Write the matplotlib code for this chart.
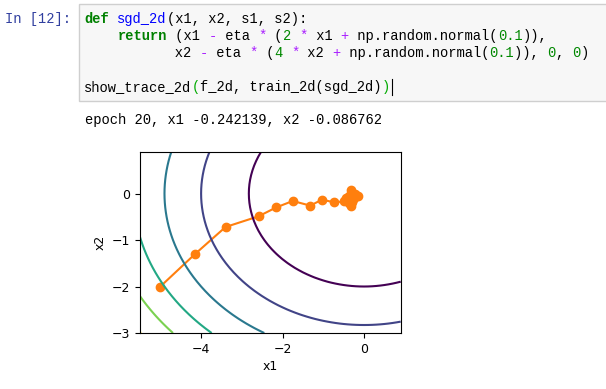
import numpy as np
import matplotlib
matplotlib.use('Agg')
import matplotlib.pyplot as plt
from matplotlib.patches import Rectangle
from matplotlib.lines import Line2D

W, H = 606, 389

# trajectory (21 points, start at (-5, -2))
x1_trace = [-5.0, -4.16, -3.40, -2.59, -2.16, -1.75, -1.32, -1.03, -0.74, -0.50,
            -0.45, -0.33, -0.38, -0.30, -0.33, -0.22, -0.15, -0.28, -0.36, -0.25, -0.242]
x2_trace = [-2.0, -1.31, -0.72, -0.49, -0.30, -0.16, -0.26, -0.13, -0.19, -0.17,
            -0.10, 0.07, -0.05, -0.18, -0.27, -0.02, -0.05, -0.12, -0.21, -0.05, -0.087]

contour_levels = [8, 16, 24, 32, 40, 48]
x_ticks = [-4, -2, 0]
y_ticks = [0, -1, -2, -3]

prompt = 'In [12]:'
output_line = 'epoch 20, x1 -0.242139, x2 -0.086762'

# code cell, split into (text, style) pieces
code_lines = [
    [('def', 'kw'), (' ', ''), ('sgd_2d', 'fn'), ('(x1, x2, s1, s2):', '')],
    [('    ', ''), ('return', 'kw'), (' (x1 ', ''), ('-', 'op'), (' eta ', ''), ('*', 'op'),
     (' (', ''), ('2', 'num'), (' ', ''), ('*', 'op'), (' x1 ', ''), ('+', 'op'),
     (' np.random.normal(', ''), ('0.1', 'num'), (')),', '')],
    [('           x2 ', ''), ('-', 'op'), (' eta ', ''), ('*', 'op'), (' (', ''), ('4', 'num'),
     (' ', ''), ('*', 'op'), (' x2 ', ''), ('+', 'op'), (' np.random.normal(', ''),
     ('0.1', 'num'), (')), ', ''), ('0', 'num'), (', ', ''), ('0', 'num'), (')', '')],
    [],
    [('show_trace_2d', ''), ('(', 'br'), ('f_2d, train_2d(sgd_2d)', ''), (')', 'br')],
]

styles = {
    '': ('#000000', 'normal'),
    'kw': ('#008000', 'bold'),
    'fn': ('#0000ff', 'normal'),
    'op': ('#aa22ff', 'normal'),
    'num': ('#008800', 'normal'),
    'br': ('#00aa00', 'normal'),
}


def f_2d(x1, x2):
    return x1 ** 2 + 2 * x2 ** 2


def fx(px):
    return px / W


def fy(py):
    return 1 - py / H


fig = plt.figure(figsize=(W / 100, H / 100), dpi=100)

mono = 'Liberation Mono'
fs = 9.9
cw = 8.27
x0 = 84.3

# cell box
fig.patches.append(Rectangle((fx(78.5), fy(100.7)), fx(W + 5) - fx(78.5), fy(4) - fy(100.7),
                             transform=fig.transFigure, facecolor='#f7f7f7',
                             edgecolor='#cfcfcf', linewidth=1))

fig.text(fx(5), fy(23), prompt, family=mono, fontsize=fs, color='#303f9f', va='baseline')

line_y = [23, 40, 57, 74, 91]
for row, pieces in enumerate(code_lines):
    col = 0
    for txt, st in pieces:
        color, weight = styles[st]
        if txt.strip():
            fig.text(fx(x0 + col * cw), fy(line_y[row]), txt, family=mono, fontsize=fs,
                     color=color, weight=weight, va='baseline')
        col += len(txt)

# cursor
cx = x0 + 37 * cw + 2
fig.lines.append(Line2D([fx(cx), fx(cx)], [fy(79), fy(95)], transform=fig.transFigure,
                        color='black', linewidth=0.8))

fig.text(fx(85), fy(124), output_line, family=mono, fontsize=fs, color='black', va='baseline')

# chart
ax = fig.add_axes([fx(140), fy(333), fx(400.7) - fx(140), fy(151.7) - fy(333)])
ax.plot(x1_trace, x2_trace, '-o', color='#ff7f0e')
g1, g2 = np.meshgrid(np.arange(-5.5, 1.0, 0.1), np.arange(-3.0, 1.0, 0.1))
ax.contour(g1, g2, f_2d(g1, g2), levels=contour_levels, cmap='viridis',
           vmin=contour_levels[0], vmax=contour_levels[-1])
ax.set_xticks(x_ticks)
ax.set_yticks(y_ticks)
ax.tick_params(labelsize=9)
ax.set_xlabel('x1', fontsize=9, labelpad=3)
ax.set_ylabel('x2', fontsize=9)

fig.savefig('out.png', dpi=100)
